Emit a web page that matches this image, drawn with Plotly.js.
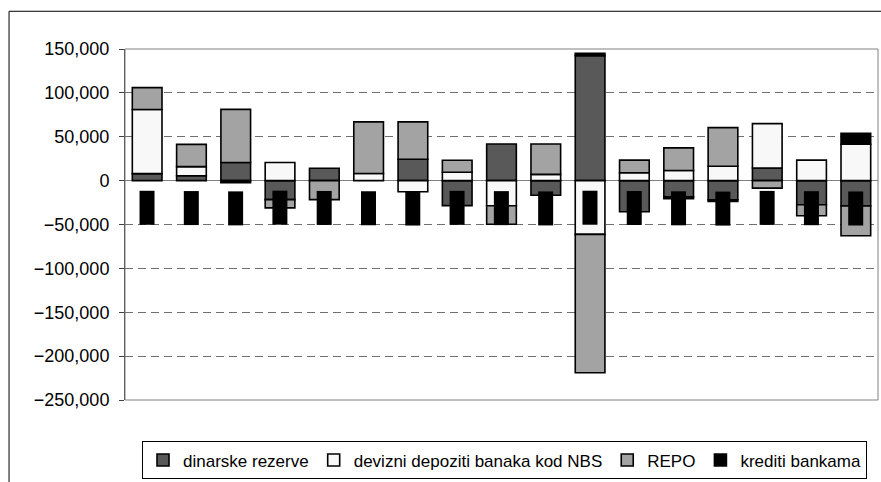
<!DOCTYPE html>
<html>
<head>
<meta charset="utf-8">
<script src="https://cdn.plot.ly/plotly-3.0.1.min.js"></script>
<style>
html,body{margin:0;padding:0;background:#fff;}
#chart{width:881px;height:482px;}
</style>
</head>
<body>
<div id="chart"></div>
<script>
// Categories (original period labels are not legible in the reference)
const categories = ['1','2','3','4','5','6','7','8','9','10','11','12','13','14','15','16','17'];
const categoryLabels = ['1','2','3','4','5','6','7','8','9','10','11','12','13','14','15','16','17'];

// Series values
const dinarskeRezerve = [8000, 5500, 20600, -21700, 14100, null, 24300, -28500, 41800, -16600, 142500, -35400, -18400, -21800, 14400, -27500, -29000];
const devizniDepoziti = [73000, 10500, null, 20600, null, 8100, -12700, 9600, -28600, 7100, -61300, 9000, 11600, 16300, 50600, 23400, 41500];
const repo = [25000, 25300, 60600, -9400, -21700, 58900, 42700, 13600, -21200, 34700, -157600, 14400, 25700, 44100, -8600, -12500, -33900];
const kreditiBankama = [null, null, -2500, null, null, null, null, null, null, null, 2600, null, -2300, -2000, null, null, 12500];

const seriesNames = ['dinarske rezerve', 'devizni depoziti banaka kod NBS', 'REPO', 'krediti bankama'];
const yTickVals = [-250000, -200000, -150000, -100000, -50000, 0, 50000, 100000, 150000];

const colors = ['#595959', '#F8F8F8', '#A3A3A3', '#000000'];
const seriesData = [dinarskeRezerve, devizniDepoziti, repo, kreditiBankama];

const traces = seriesData.map((vals, i) => ({
  type: 'bar',
  name: seriesNames[i],
  x: categories,
  y: vals,
  marker: {color: colors[i], line: {color: '#000000', width: 1.6}},
  hoverinfo: 'skip'
}));

const font = 'Liberation Sans, Arial, sans-serif';

// category labels (rendered as solid black boxes in the reference)
const annotations = categories.map((c, i) => ({
  x: i, xref: 'x', y: 0, yref: 'y',
  yanchor: 'top', xanchor: 'center', yshift: -10,
  text: categoryLabels[i],
  textangle: -90,
  width: 33, height: 14,
  bgcolor: '#000000',
  font: {family: font, size: 10, color: '#000000'},
  borderpad: 0,
  showarrow: false
}));

const layout = {
  width: 881, height: 482,
  margin: {l: 125, r: 3, t: 49, b: 80, pad: 0},
  paper_bgcolor: '#ffffff',
  plot_bgcolor: '#ffffff',
  barmode: 'relative',
  bargap: 0.33,
  showlegend: true,
  legend: {
    orientation: 'h',
    x: 0.0226, xanchor: 'left',
    y: -0.118, yanchor: 'top',
    bordercolor: '#000000', borderwidth: 1,
    bgcolor: '#ffffff',
    font: {family: font, size: 17, color: '#000000'},
    traceorder: 'normal',
    itemwidth: 30
  },
  xaxis: {
    type: 'category',
    showticklabels: false,
    ticks: '',
    showgrid: false,
    zeroline: false,
    showline: false,
    fixedrange: true
  },
  yaxis: {
    range: [-250000, 150000],
    tickvals: yTickVals,
    tickformat: ',',
    ticks: 'outside',
    ticklen: 5,
    tickcolor: '#404040',
    ticklabelstandoff: 6,
    showline: true,
    linecolor: '#404040',
    linewidth: 1,
    showgrid: true,
    gridcolor: '#707070',
    gridwidth: 1,
    griddash: '8px,5px',
    zeroline: true,
    zerolinecolor: '#808080',
    zerolinewidth: 1,
    tickfont: {family: font, size: 18, color: '#000000'},
    fixedrange: true
  },
  annotations: annotations,
  shapes: [
    {type: 'rect', xref: 'paper', yref: 'paper', x0: 0, x1: 1, y0: 0, y1: 1,
     line: {color: '#808080', width: 1}, layer: 'above'},
    {type: 'path', xref: 'paper', yref: 'paper',
     path: 'M -0.154 -1 L -0.154 1.1075 L 1.2 1.1075',
     line: {color: '#000000', width: 1}}
  ]
};

Plotly.newPlot('chart', traces, layout, {displayModeBar: false, staticPlot: true});
</script>
</body>
</html>
